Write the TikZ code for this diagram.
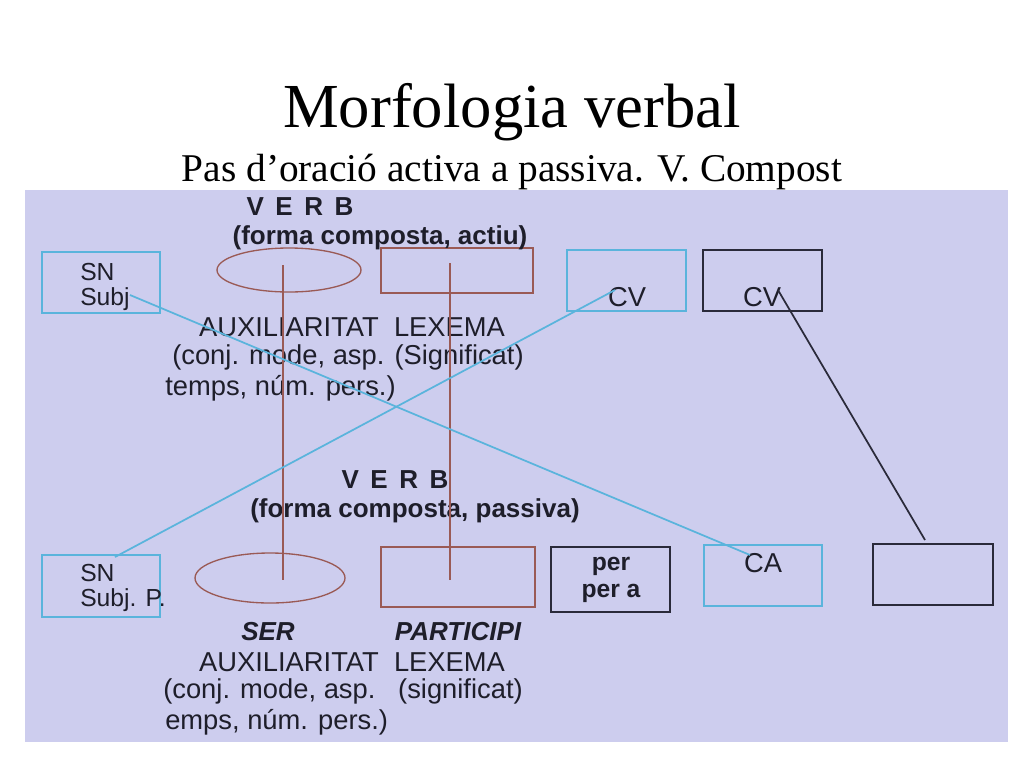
\documentclass[tikz,border=0pt]{standalone}
\usepackage{fontspec}
\setmainfont{Liberation Serif}
\newfontfamily\arial{Liberation Sans}
\definecolor{bgl}{HTML}{CDCDEE}
\definecolor{cy}{HTML}{5AB4DC}
\definecolor{br}{HTML}{9A5A55}
\definecolor{dk}{HTML}{2A2A3A}
\definecolor{tx}{HTML}{1E1E2A}
\begin{document}
\begin{tikzpicture}[x=0.75pt,y=-0.75pt,
  cbox/.style={draw=cy,line width=1.6pt},
  dbox/.style={draw=dk,line width=1.3pt},
  rbox/.style={draw=br,line width=1pt},
  lab/.style={font=\arial\bfseries\fontsize{19.5}{22}\selectfont,text=tx,inner sep=0pt},
  lbl/.style={font=\arial\fontsize{20.5}{23}\selectfont,text=tx,inner sep=0pt,align=left},
  snl/.style={font=\arial\fontsize{18.5}{19}\selectfont,text=tx,inner sep=0pt,align=left}]
\useasboundingbox (0,0) rectangle (1024,768);
\fill[white] (0,0) rectangle (1024,768);
\fill[bgl] (25,190) rectangle (1008,742);
\node[font=\fontsize{47}{50}\selectfont] (title) at (512,112) {Morfologia verbal};
\node[font=\fontsize{29.5}{32}\selectfont] (sub) at (512,172) {Pas d’oració activa a passiva. V. Compost};
% top row
\draw[cbox] (42,252) rectangle (160,313);
\node[snl,anchor=north west] (sn1) at (80,263) {SN\\Subj};
\draw[rbox] (289,270) ellipse (72 and 22);
\draw[rbox] (381,248) rectangle (533,293);
\draw[cbox] (567,250) rectangle (686,311);
\node[lbl] (cv1) at (627,297) {CV};
\draw[dbox] (703,250) rectangle (822,311);
\node[lbl] (cv2) at (762,297) {CV};
\node[lab] (verb1) at (300,207) {V\,\ E\,\ R\,\ B};
\node[lab] (fca) at (380,238) {(forma composta, actiu)};
\node[lbl] (aux1) at (352,327) {AUXILIARITAT\ \ LEXEMA};
\node[lbl,anchor=west] (c1) at (172,357) {(conj. mode, asp. (Significat)};
\node[lbl,anchor=west] (t1) at (165,388) {temps, núm. pers.)};
\node[lab] (verb2) at (395,480) {V\,\ E\,\ R\,\ B};
\node[lab] (fcp) at (415,511) {(forma composta, passiva)};
% bottom row
\draw[cbox] (42,555) rectangle (160,617);
\node[snl,anchor=north west] (sn2) at (80,564) {SN\\Subj. P.};
\draw[rbox] (270,578) ellipse (75 and 25);
\draw[rbox] (381,547) rectangle (535,607);
\draw[dbox] (551,547) rectangle (670,612);
\node[font=\arial\bfseries\fontsize{18.5}{20}\selectfont,text=tx,inner sep=0pt,align=center] (per) at (611,580) {per\\per a};
\draw[cbox] (704,545) rectangle (822,606);
\node[lbl] (ca) at (763,563) {CA};
\draw[dbox] (873,544) rectangle (993,605);
\node[font=\arial\bfseries\itshape\fontsize{19.5}{22}\selectfont,text=tx] (ser) at (268,632) {SER};
\node[font=\arial\bfseries\itshape\fontsize{19.5}{22}\selectfont,text=tx] (part) at (458,632) {PARTICIPI};
\node[lbl] (aux2) at (352,662) {AUXILIARITAT\ \ LEXEMA};
\node[lbl,anchor=west] (c2) at (163,691) {(conj. mode, asp.\ \ \ (significat)};
\node[lbl,anchor=west] (t2) at (165,722) {emps, núm. pers.)};
% lines
\draw[br,line width=1pt] (283,265) -- (283,580);
\draw[br,line width=1pt] (450,263) -- (450,580);
\draw[cy,line width=1.3pt] (130,295) -- (750,555);
\draw[cy,line width=1.3pt] (115,557) -- (615,290);
\draw[dk,line width=1.3pt] (778,290) -- (925,540);
\end{tikzpicture}
\end{document}
